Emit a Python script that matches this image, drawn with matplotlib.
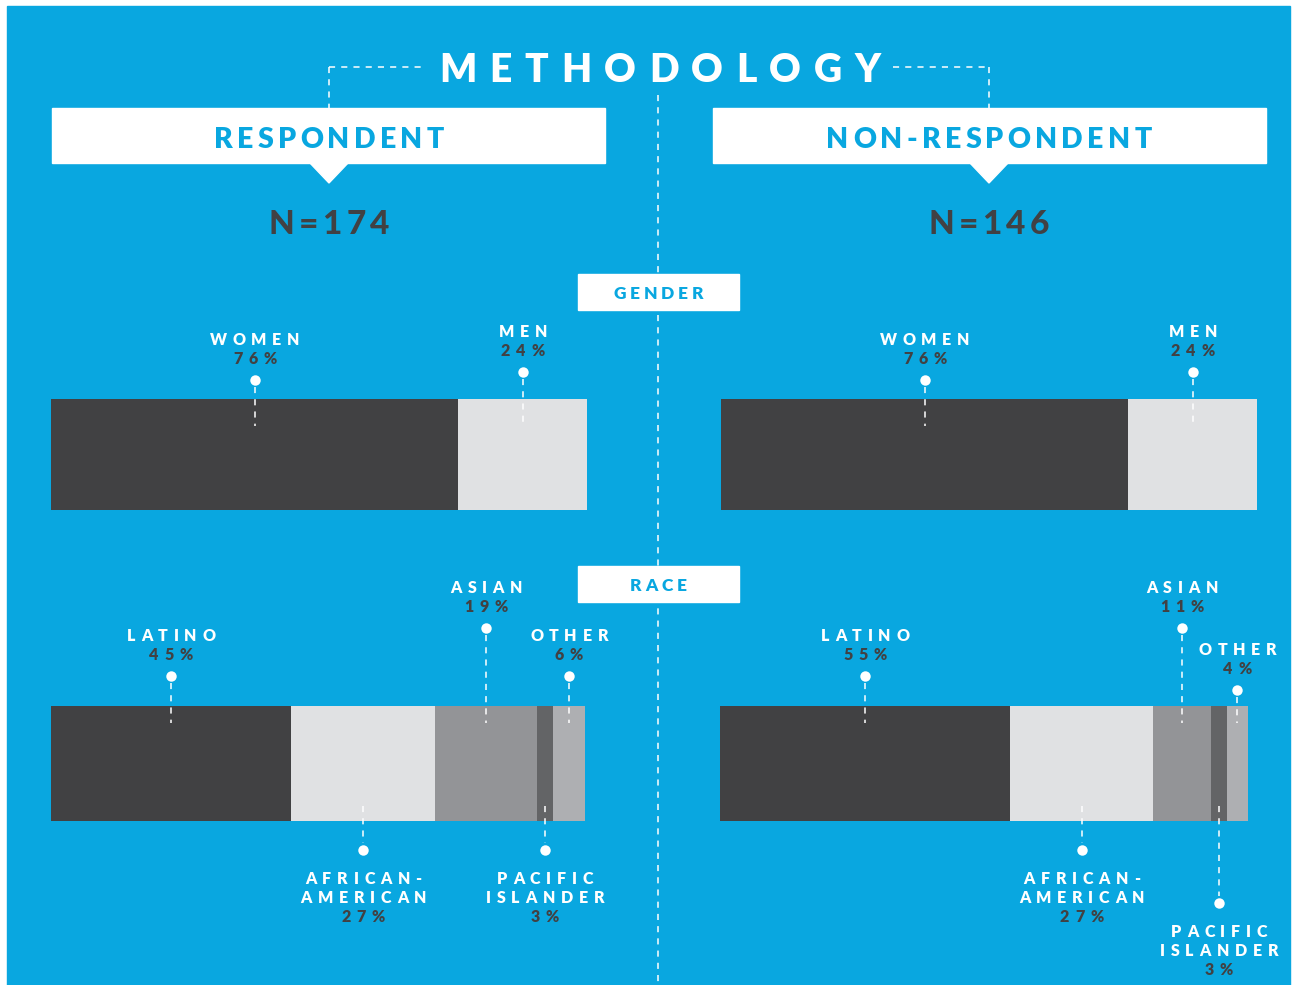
import matplotlib
matplotlib.use("Agg")
import matplotlib.pyplot as plt
import numpy as np
from matplotlib.patches import Rectangle, Polygon
from matplotlib.font_manager import FontProperties
from matplotlib.textpath import TextToPath
from matplotlib.transforms import ScaledTranslation, blended_transform_factory

# ---- data ----
groups = ["RESPONDENT", "NON-RESPONDENT"]
n_sizes = [174, 146]

gender_labels = ["WOMEN", "MEN"]
gender_resp = [76, 24]
gender_nonresp = [76, 24]

race_labels = ["LATINO", "AFRICAN-\nAMERICAN", "ASIAN", "PACIFIC\nISLANDER", "OTHER"]
race_resp = [45, 27, 19, 3, 6]
race_nonresp = [55, 27, 11, 3, 4]

# ---- style / layout ----
W, H, DPI = 1292, 985, 100
BLUE = "#09a7e0"
DARK = "#414143"
FONT = "Lato"
gender_colors = ["#414143", "#e0e1e3"]
race_colors = ["#414143", "#e0e1e3", "#939497", "#636466", "#aeafb2"]

fig = plt.figure(figsize=(W / DPI, H / DPI), dpi=DPI, facecolor="white")
fig.add_artist(Rectangle((7 / W, 0), (1290 - 7) / W, 1 - 6 / H,
                         transform=fig.transFigure, color=BLUE, zorder=-10))

ax = fig.add_axes([0, 0, 1, 1], zorder=3)
ax.set_xlim(0, W)
ax.set_ylim(H, 0)
ax.set_facecolor("none")
ax.axis("off")

t2p = TextToPath()


def tracked(x, y, s, size, color, track=0.3, trans=None, weight="heavy", zorder=6):
    """draw text with letter spacing, centred on x"""
    trans = trans or ax.transData
    fp = FontProperties(family=FONT, weight=weight, size=size)
    ws = [size * 0.25 if ch == " " else
          t2p.get_text_width_height_descent(ch, fp, ismath=False)[0] for ch in s]
    gap = track * size
    off = -(sum(ws) + gap * (len(s) - 1)) / 2
    for ch, w in zip(s, ws):
        ax.text(x, y, ch, fontproperties=fp, color=color, ha="left", va="center",
                transform=trans + ScaledTranslation(off / 72, 0, fig.dpi_scale_trans),
                zorder=zorder)
        off += w + gap


def dashed(xs, ys, trans=None, zorder=4):
    ax.plot(xs, ys, color="white", lw=1.1, dashes=(4, 4),
            transform=trans or ax.transData, zorder=zorder, solid_capstyle="butt")


# ---- header ----
tracked(660, 70, "METHODOLOGY", 28, "white", track=0.33)
dashed([329, 425], [67, 67])
dashed([329, 329], [67, 108])
dashed([893, 989], [67, 67])
dashed([989, 989], [67, 108])
dashed([658, 658], [95, 985], zorder=1)

for name, n, cx, x0 in zip(groups, n_sizes, [329, 989], [52, 713]):
    ax.add_patch(Rectangle((x0, 108), 553, 55, color="white", zorder=2))
    ax.add_patch(Polygon([(cx - 20, 162), (cx + 20, 162), (cx, 183)],
                         closed=True, color="white", zorder=2))
    tracked(cx, 140, name, 20.5, BLUE, track=0.15)
    tracked(cx, 224, "N=%d" % n, 24, DARK, track=0.13, weight="black")

for title, y0 in [("GENDER", 274), ("RACE", 566)]:
    ax.add_patch(Rectangle((578, y0), 161, 36, color="white", zorder=2))
    tracked(658.5, y0 + 20, title, 12.5, BLUE, track=0.22)


# ---- bars ----
def stacked_bar(box, values, colors, labels, dots, sides, dash_end):
    x0, y0, x1, y1 = box
    bax = fig.add_axes([x0 / W, 1 - y1 / H, (x1 - x0) / W, (y1 - y0) / H], zorder=2)
    lefts = np.concatenate([[0], np.cumsum(values)[:-1]])
    bax.barh(0, values, left=lefts, height=1, color=colors, linewidth=0)
    bax.set_xlim(0, sum(values))
    bax.set_ylim(-0.5, 0.5)
    bax.axis("off")

    tr = blended_transform_factory(bax.transData, ax.transData)
    centers = lefts + np.array(values) / 2
    for xc, v, lab, yd, side in zip(centers, values, labels, dots, sides):
        ax.plot([xc], [yd], "o", ms=7.5, color="white", mec="none", transform=tr, zorder=5)
        lines = lab.split("\n")
        if side == "up":
            dashed([xc, xc], [yd + 7, y0 + dash_end], trans=tr)
            tracked(xc, yd - 21, "%d%%" % v, 11.5, DARK, track=0.36, trans=tr)
            for i, ln in enumerate(reversed(lines)):
                tracked(xc, yd - 40 - 19 * i, ln, 11.5, "white", track=0.36, trans=tr)
        else:
            dashed([xc, xc], [y1 - 15, yd - 7], trans=tr)
            for i, ln in enumerate(lines):
                tracked(xc, yd + 29 + 19 * i, ln, 11.5, "white", track=0.36, trans=tr)
            tracked(xc, yd + 29 + 19 * len(lines), "%d%%" % v, 11.5, DARK,
                    track=0.36, trans=tr)


stacked_bar((51, 399, 587, 510), gender_resp, gender_colors, gender_labels,
            [380, 372], ["up", "up"], 27)
stacked_bar((721, 399, 1257, 510), gender_nonresp, gender_colors, gender_labels,
            [380, 372], ["up", "up"], 27)
stacked_bar((51, 706, 585, 821), race_resp, race_colors, race_labels,
            [676, 850, 628, 850, 676], ["up", "down", "up", "down", "up"], 17)
stacked_bar((720, 706, 1248, 821), race_nonresp, race_colors, race_labels,
            [676, 850, 628, 903, 690], ["up", "down", "up", "down", "up"], 17)

fig.savefig("out.png", dpi=DPI, facecolor="white")
